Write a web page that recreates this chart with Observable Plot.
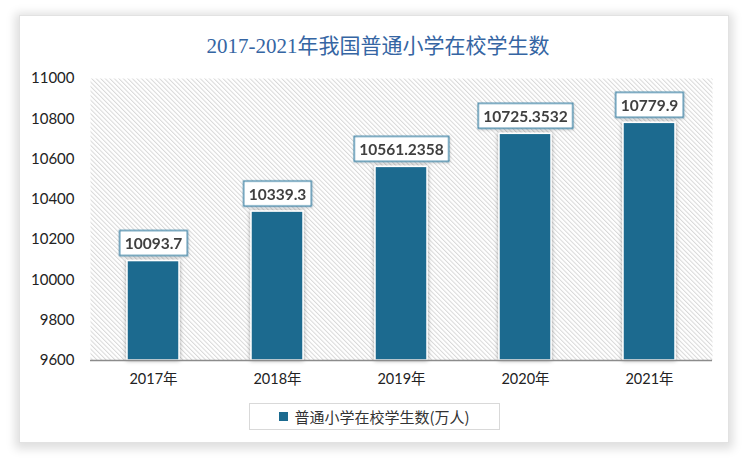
<!DOCTYPE html>
<html>
<head>
<meta charset="utf-8">
<script src="https://cdn.jsdelivr.net/npm/d3@7"></script>
<script src="https://cdn.jsdelivr.net/npm/@observablehq/plot@0.6"></script>
<style>
  html, body { margin: 0; padding: 0; background: #fff; }
  #wrap { position: relative; width: 750px; height: 461px; overflow: hidden; background: #fff; }
  #card { position: absolute; left: 19px; top: 15px; width: 708px; height: 426px; background: #fff;
          border: 1px solid #e2e2e2; box-shadow: 0 2px 9px 4px rgba(0,0,0,0.13); }
  #title { position: absolute; left: 0; top: 29px; width: 756px; text-align: center;
           font-family: "Liberation Serif", "DejaVu Serif", "Noto Sans CJK SC", serif; font-size: 21px; color: #3565a3; }
  #chart { position: absolute; left: 0; top: 60px; }
  #legend { position: absolute; left: 249px; top: 403px; width: 251px; height: 27px; border: 1px solid #d9d9d9; background: #fff;
            font-family: "Noto Sans CJK SC", sans-serif; font-size: 15px; color: #333;
            display: flex; align-items: center; justify-content: center; box-sizing: border-box; }
  #legend .sw { display: inline-block; width: 9px; height: 9px; background: #1b6a8f; margin-right: 6px; }
</style>
</head>
<body>
<div id="wrap">
  <div id="card"></div>
  <div id="title"></div>
  <div id="chart"></div>
  <div id="legend"><span class="sw"></span><span id="legendText"></span></div>
</div>
<script>
const titleText = "2017-2021年我国普通小学在校学生数";
const seriesName = "普通小学在校学生数(万人)";
const years = ["2017年", "2018年", "2019年", "2020年", "2021年"];
const values = [10093.7, 10339.3, 10561.2358, 10725.3532, 10779.9];
const labels = ["10093.7", "10339.3", "10561.2358", "10725.3532", "10779.9"];
const yTicks = [9600, 9800, 10000, 10200, 10400, 10600, 10800, 11000];

document.getElementById("title").textContent = titleText;
document.getElementById("legendText").textContent = seriesName;

const data = years.map((y, i) => ({year: y, value: values[i], label: labels[i]}));

const defs = () => {
  const ns = "http://www.w3.org/2000/svg";
  const d = document.createElementNS(ns, "defs");
  d.innerHTML = `
    <pattern id="hatch" width="3.2" height="4" patternUnits="userSpaceOnUse" patternTransform="rotate(-45)">
      <rect width="3.2" height="4" fill="#ffffff"/>
      <rect x="0" y="0" width="1" height="4" fill="#d8d8d8"/>
    </pattern>
    <filter id="shadow" x="-30%" y="-10%" width="160%" height="130%">
      <feDropShadow dx="0" dy="0" stdDeviation="2.2" flood-color="#000" flood-opacity="0.35"/>
    </filter>
    <filter id="lshadow" x="-20%" y="-30%" width="140%" height="160%">
      <feDropShadow dx="0.5" dy="1" stdDeviation="1" flood-color="#000" flood-opacity="0.2"/>
    </filter>`;
  return d;
};

const chart = Plot.plot({
  width: 750,
  height: 330,
  marginLeft: 90,
  marginRight: 38,
  marginTop: 18,
  marginBottom: 30,
  style: {fontFamily: "Lato, 'Noto Sans CJK SC', sans-serif", fontSize: "14.5px", color: "#333", background: "transparent"},
  x: {domain: years, paddingInner: 0.58, paddingOuter: 0.29, label: null},
  y: {domain: [9600, 11000], ticks: yTicks, label: null},
  marks: [
    defs,
    Plot.frame({fill: "url(#hatch)", stroke: "none"}),
    Plot.barY(data, {x: "year", y1: 9600, y2: "value", fill: "#1b6a8f", stroke: "#ffffff", strokeWidth: 1.5, className: "bars"}),
    Plot.ruleY([9600], {stroke: "#8c8c8c", strokeWidth: 1.5}),
    Plot.axisY({ticks: yTicks, tickFormat: d => String(d), tickSize: 0, tickPadding: 16, fontSize: 15, fill: "#222"}),
    Plot.axisX({tickSize: 0, tickPadding: 13, fontSize: 14.5, fill: "#222"}),
    Plot.text(data, {x: "year", y: "value", text: "label", dy: -17, fontSize: 15.5, fontWeight: "bold", fill: "#404040", className: "vlabels"})
  ]
});
document.getElementById("chart").appendChild(chart);

// shadow on bars
const bars = chart.querySelector("g.bars");
if (bars) bars.setAttribute("filter", "url(#shadow)");

// boxes behind value labels (inserted inside the label group so they share its transform)
const lg = chart.querySelector("g.vlabels");
if (lg) {
  const ns = "http://www.w3.org/2000/svg";
  const boxes = document.createElementNS(ns, "g");
  boxes.setAttribute("filter", "url(#lshadow)");
  lg.querySelectorAll("text").forEach(t => {
    const b = t.getBBox();
    const tr = t.getAttribute("transform");
    const r = document.createElementNS(ns, "rect");
    const padX = 5;
    r.setAttribute("x", b.x - padX);
    r.setAttribute("y", b.y + b.height / 2 - 12.5);
    r.setAttribute("width", b.width + 2 * padX);
    r.setAttribute("height", 25);
    if (tr) r.setAttribute("transform", tr);
    r.setAttribute("fill", "#fff");
    r.setAttribute("stroke", "#3f84a6");
    r.setAttribute("stroke-width", "1.3");
    boxes.appendChild(r);
  });
  lg.insertBefore(boxes, lg.firstChild);
}
</script>
</body>
</html>
